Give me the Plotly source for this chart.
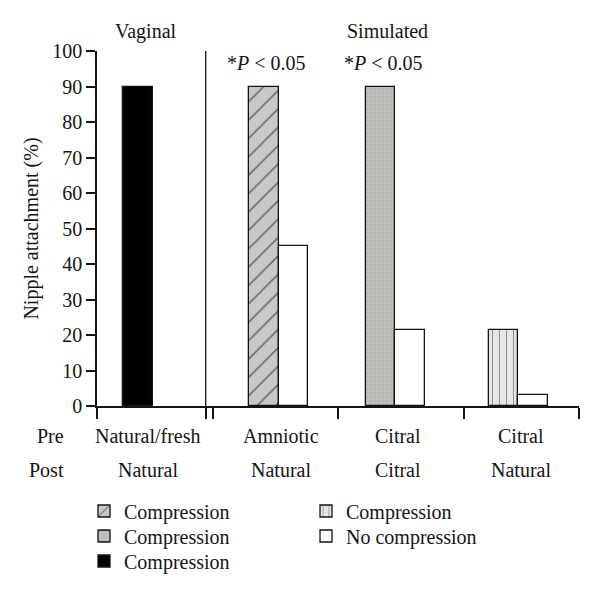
import plotly.graph_objects as go

# ---------------- data ----------------
pre_labels = ["Natural/fresh", "Amniotic", "Citral", "Citral"]
post_labels = ["Natural", "Natural", "Citral", "Natural"]
compression = [90, 90, 90, 21.5]
no_compression = [None, 45, 21.5, 3]
compression_names = ["Compression", "Compression", "Compression", "Compression"]
no_compression_name = "No compression"
section_labels = ["Vaginal", "Simulated"]
y_ticks = list(range(0, 101, 10))

# ---------------- layout constants (pixels) ----------------
W, H = 600, 592
L, R, T, B = 97, 21, 51, 186
PW = W - L - R
PH = H - T - B
BW = 29.5
group_centers = [41, 181.7, 298.2, 421.3]
tick_bounds = [0, 108.7, 116.3, 241, 367, 482]
FONT = "Liberation Serif"
FS = 20
INK = "#141414"


def xp(px):
    return (px - L) / PW


def yp(py):
    return (H - B - py) / PH


styles = [
    dict(color="#000000"),
    dict(color="#c8c8c8", pattern=dict(shape="/", fgcolor="#111", bgcolor="#c8c8c8",
                                       size=13, solidity=0.12)),
    dict(color="#bdbbb7", pattern=dict(shape=".", fgcolor="#aaa8a4", bgcolor="#c0beba",
                                       size=4, solidity=0.35)),
    dict(color="#e6e6e6", pattern=dict(shape="|", fgcolor="#333", bgcolor="#e6e6e6",
                                       size=7, solidity=0.14)),
]
legend_slot = {0: (84, 561), 1: (84, 511), 2: (84, 536), 3: (306, 511)}
nc_slot = (306, 536)
order = [1, 2, 0, 3]

fig = go.Figure()
legend_layout = {}
legend_common = dict(font=dict(family=FONT, size=FS, color=INK), bgcolor="rgba(0,0,0,0)",
                     xanchor="left", yanchor="middle", orientation="v",
                     itemclick=False, itemdoubleclick=False)

for k, i in enumerate(order):
    lname = "legend" if k == 0 else f"legend{k + 1}"
    xc = group_centers[i] if no_compression[i] is None else group_centers[i] - BW / 2
    fig.add_trace(go.Bar(
        x=[xc], y=[compression[i]], width=BW, name=compression_names[i],
        marker=dict(**styles[i], line=dict(color=INK, width=1.3)),
        legend=lname, showlegend=True,
    ))
    sx, sy = legend_slot[i]
    legend_layout[lname] = dict(**legend_common, x=xp(sx), y=yp(sy))

nc_x = [c + BW / 2 for c, v in zip(group_centers, no_compression) if v is not None]
nc_y = [v for v in no_compression if v is not None]
fig.add_trace(go.Bar(
    x=nc_x, y=nc_y, width=BW, name=no_compression_name,
    marker=dict(color="white", line=dict(color=INK, width=1.3)),
    legend="legend5", showlegend=True,
))
legend_layout["legend5"] = dict(**legend_common, x=xp(nc_slot[0]), y=yp(nc_slot[1]))

fig.add_shape(type="line", xref="x", yref="y", x0=tick_bounds[1], x1=tick_bounds[1],
              y0=0, y1=100, line=dict(color=INK, width=1.3))

ann = []
ann.append(dict(text=section_labels[0], x=xp(146), y=yp(31)))
ann.append(dict(text=section_labels[1], x=xp(387.5), y=yp(31)))
for cx in (266, 383):
    ann.append(dict(text="*<i>P</i> < 0.05", x=xp(cx), y=yp(63)))
ann.append(dict(text="Pre", x=xp(66), y=yp(436), xanchor="right"))
ann.append(dict(text="Post", x=xp(66), y=yp(470), xanchor="right"))
label_px = [148, 281, 398, 521]
for lp, pl, po in zip(label_px, pre_labels, post_labels):
    ann.append(dict(text=pl, x=xp(lp), y=yp(436)))
    ann.append(dict(text=po, x=xp(lp), y=yp(470)))

annotations = []
for a in ann:
    d = dict(xref="paper", yref="paper", showarrow=False, xanchor="center",
             yanchor="middle", font=dict(family=FONT, size=FS, color=INK))
    d.update(a)
    annotations.append(d)

fig.update_layout(
    width=W, height=H,
    margin=dict(l=L, r=R, t=T, b=B, pad=0, autoexpand=False),
    paper_bgcolor="white", plot_bgcolor="white",
    bargap=0, barmode="overlay",
    font=dict(family=FONT, size=FS, color=INK),
    annotations=annotations,
    xaxis=dict(range=[0, PW], showline=True, linecolor=INK, linewidth=1.5,
               ticks="outside", ticklen=11, tickwidth=1.5, tickcolor=INK,
               tickvals=tick_bounds, showticklabels=False, showgrid=False,
               zeroline=False, fixedrange=True),
    yaxis=dict(range=[0, 100], showline=True, linecolor=INK, linewidth=1.5,
               ticks="outside", ticklen=9, tickwidth=1.5, tickcolor=INK,
               tickvals=y_ticks, showgrid=False, zeroline=False,
               tickfont=dict(family=FONT, size=FS, color=INK),
               title=dict(text="Nipple attachment (%)", standoff=8,
                          font=dict(family=FONT, size=FS, color=INK)),
               fixedrange=True),
    showlegend=True,
    **legend_layout,
)

fig.write_html("out.html", config={"displayModeBar": False},
               post_script="document.body.style.margin='0';")
